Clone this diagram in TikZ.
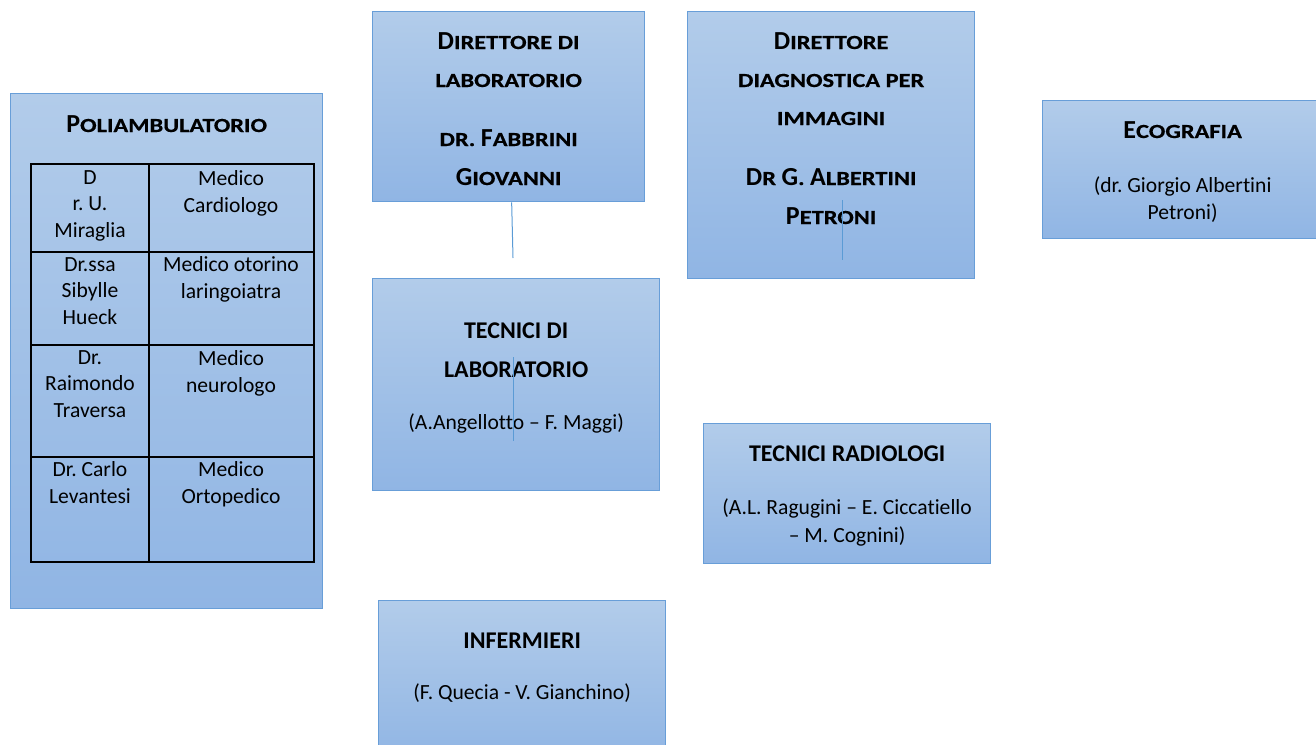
\documentclass[tikz,border=0pt]{standalone}
\usepackage{fontspec}
\setmainfont{Carlito}[Ligatures={TeX,NoCommon}]
\newfontfamily\headsc[FakeStretch=1.22,FakeBold=0.6,UprightFont={* Bold}]{Carlito}
\usetikzlibrary{positioning}
\definecolor{boxtop}{RGB}{178,204,234}
\definecolor{boxbot}{RGB}{144,181,228}
\definecolor{boxline}{RGB}{104,158,216}
\definecolor{linkblue}{RGB}{91,155,213}
\newcommand{\bigini}[1]{{\normalfont\bfseries\fontsize{26}{38}\selectfont #1}}
\frenchspacing

\begin{document}
\begin{tikzpicture}[x=1pt,y=-1pt,
  box/.style={draw=boxline,line width=1.3pt,top color=boxtop,bottom color=boxbot,
    anchor=north west,inner sep=0pt},
  head/.style={anchor=base,align=center,inner sep=0pt,
    font=\headsc\fontsize{20}{38}\selectfont},
  caps/.style={anchor=base,align=center,inner sep=0pt,
    font=\bfseries\fontsize{24}{39}\selectfont},
  body/.style={anchor=base,align=center,inner sep=0pt,
    font=\fontsize{21.6}{26.5}\selectfont},
  grid line/.style={draw=black,line width=2pt},
  link/.style={draw=linkblue,line width=1pt}]

  \useasboundingbox (0,0) rectangle (1316,744);

  \node[box,minimum width=312,minimum height=515] (poli) at (10,93) {};
  \node[box,minimum width=272,minimum height=190] (dirlab) at (372,11) {};
  \node[box,minimum width=287,minimum height=267] (dirdiag) at (687,11) {};
  \node[box,minimum width=280,minimum height=138] (eco) at (1042,100) {};
  \node[box,minimum width=287,minimum height=212] (teclab) at (372,278) {};
  \node[box,minimum width=287,minimum height=140] (tecrad) at (703,423) {};
  \node[box,minimum width=287,minimum height=160] (inferm) at (378,600) {};

  \node[head] (poli-t) at ([yshift=-39]poli.north) {\bigini{P}OLIAMBULATORIO};
  \node[head] (dirlab-t) at ([yshift=-174]dirlab.north)
    {\bigini{D}IRETTORE DI\\LABORATORIO\\[21pt]DR. \bigini{F}ABBRINI\\[1pt]\bigini{G}IOVANNI};
  \node[head] (dirdiag-t) at ([yshift=-213]dirdiag.north)
    {\bigini{D}IRETTORE\\DIAGNOSTICA PER\\IMMAGINI\\[22pt]\bigini{D}R \bigini{G}. \bigini{A}LBERTINI\\[1pt]\bigini{P}ETRONI};
  \node[head] (eco-t) at ([yshift=-38]eco.north) {\bigini{E}COGRAFIA};
  \node[body] (eco-n) at ([yshift=-119]eco.north) {(dr. Giorgio Albertini\\Petroni)};

  \node[caps] (teclab-t) at ([yshift=-99]teclab.north) {TECNICI DI\\LABORATORIO};
  \node[body] (teclab-n) at ([yshift=-151]teclab.north) {(A.Angellotto -- F. Maggi)};
  \node[caps] (tecrad-t) at ([yshift=-38]tecrad.north) {TECNICI RADIOLOGI};
  \node[body,font=\fontsize{21.6}{27.5}\selectfont] (tecrad-n) at ([yshift=-119]tecrad.north)
    {(A.L. Ragugini -- E. Ciccatiello\\-- M. Cognini)};
  \node[caps] (inferm-t) at ([yshift=-48]inferm.north) {INFERMIERI};
  \node[body] (inferm-n) at ([yshift=-99]inferm.north) {(F. Quecia - V. Gianchino)};

  \draw[grid line] (31,164) rectangle (314,562);
  \foreach \y in {252,345,457}
    \draw[grid line] (31,\y) -- (314,\y);
  \draw[grid line] (149,164) -- (149,562);

  \node[body] (doc1) at (90,237) {D\\r. U.\\Miraglia};
  \node[body] (spec1) at (231,212) {Medico\\Cardiologo};
  \node[body] (doc2) at (90,324) {Dr.ssa\\Sibylle\\Hueck};
  \node[body] (spec2) at (231,298) {Medico otorino\\laringoiatra};
  \node[body] (doc3) at (90,417) {Dr.\\Raimondo\\Traversa};
  \node[body] (spec3) at (231,392) {Medico\\neurologo};
  \node[body] (doc4) at (90,503) {Dr. Carlo\\Levantesi};
  \node[body] (spec4) at (231,503) {Medico\\Ortopedico};

  \coordinate (dirlab-end) at (513,258);
  \draw[link] ([xshift=3]dirlab.south) -- (dirlab-end);
  \coordinate (teclab-a) at (513,357);
  \coordinate (teclab-b) at (513,441);
  \draw[link] (teclab-a) -- (teclab-b);
  \coordinate (dirdiag-a) at (842,200);
  \coordinate (dirdiag-b) at (842,260);
  \draw[link] (dirdiag-a) -- (dirdiag-b);
\end{tikzpicture}
\end{document}
